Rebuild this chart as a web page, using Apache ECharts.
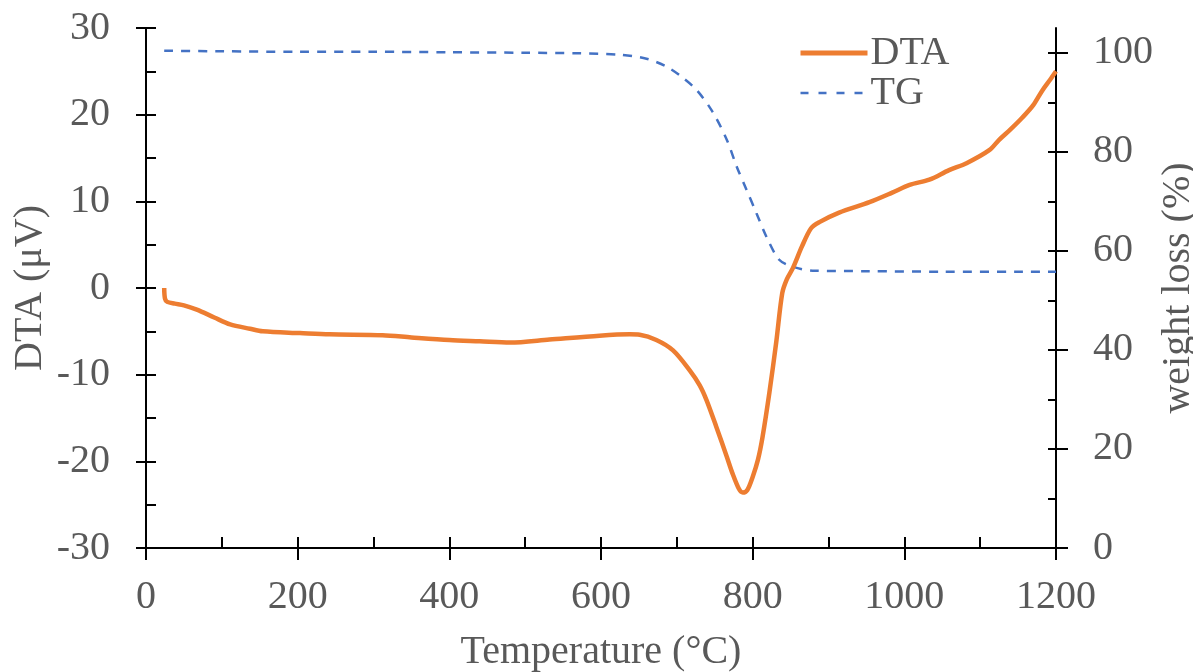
<!DOCTYPE html>
<html>
<head>
<meta charset="utf-8">
<script src="https://cdn.jsdelivr.net/npm/echarts@6/dist/echarts.min.js"></script>
<style>html,body{margin:0;padding:0;background:#fff;}#c{width:1193px;height:672px;}</style>
</head>
<body>
<div id="c"></div>
<script>
// Temperature (°C) vs DTA (µV)
const dtaTemp = [24,25,28,38,50,67,90,111,137,154,203,242,312,350,400,440,480,532,598,638,651,673,695,717,730,739,752,766,773,782,787,793,800,807,813,822,831,839,845,853,865,877,888,914,954,984,1007,1033,1059,1082,1112,1125,1140,1156,1170,1182,1192,1200];
const dtaVal  = [0.0,-1.2,-1.6,-1.8,-2.0,-2.5,-3.4,-4.2,-4.7,-5.0,-5.2,-5.35,-5.45,-5.7,-6.0,-6.15,-6.3,-5.95,-5.5,-5.35,-5.4,-6.0,-7.2,-9.5,-11.2,-12.9,-16.0,-19.5,-21.3,-23.2,-23.6,-23.3,-21.8,-19.8,-17.2,-12.1,-6.3,-0.6,1.0,2.3,4.8,6.9,7.6,8.7,9.9,11.0,11.9,12.5,13.6,14.4,15.9,17.1,18.3,19.7,21.1,22.8,24.0,25.0];
// Temperature (°C) vs weight (%)
const tgTemp = [24,100,200,300,400,500,572,625,660,685,705,726,747,766,779,792,805,818,835,853,879,950,1050,1150,1200];
const tgVal  = [100.4,100.3,100.2,100.2,100.1,100.0,99.9,99.6,98.8,97.3,95.3,92.5,88.1,82.4,77.0,72.3,67.6,62.9,58.2,56.8,56.0,55.9,55.8,55.8,55.8];

const rightLabels = [0,20,40,60,80,100];
const rightMinor = [0,10,20,30,40,50,60,70,80,90,100];

const FONT = 'Liberation Serif';
const GRAY = '#595959';
const FS = 40;

const dtaData = dtaTemp.map((t,i)=>[t,dtaVal[i]]);
const tgData = tgTemp.map((t,i)=>[t,tgVal[i]]);

const axLine = {show:true, onZero:false, lineStyle:{color:'#000', width:2}};
const lbl = {color:GRAY, fontFamily:FONT, fontSize:FS};
const plain = v => String(v);

const chart = echarts.init(document.getElementById('c'), null, {renderer:'canvas'});
chart.setOption({
  animation:false,
  backgroundColor:'#fff',
  grid:{left:146, right:137, top:28, bottom:124, containLabel:false, outerBoundsMode:'none'},
  legend:{
    data:[
      {name:'DTA', lineStyle:{width:5, color:'#ED7D31'}},
      {name:'TG', lineStyle:{width:2.5, color:'#4472C4', type:[8,10]}}
    ],
    orient:'vertical', left:793, top:28,
    itemWidth:67, itemHeight:14, itemGap:0,
    itemStyle:{color:'rgba(0,0,0,0)', borderWidth:0, opacity:0},
    textStyle:{color:GRAY, fontFamily:FONT, fontSize:FS, padding:[0,0,0,-2]}
  },
  xAxis:[
    {type:'value', min:0, max:1200, interval:200, position:'bottom',
     name:'Temperature (°C)', nameLocation:'middle', nameGap:84, nameMoveOverlap:false,
     nameTextStyle:lbl,
     axisLine:axLine, splitLine:{show:false},
     axisTick:{show:true, inside:true, length:11, lineStyle:{color:'#000',width:2}},
     minorTick:{show:true, splitNumber:2, length:11, lineStyle:{color:'#000',width:2}},
     axisLabel:Object.assign({margin:29, formatter:plain}, lbl)},
    {type:'value', min:0, max:1200, interval:200, position:'bottom',
     axisLine:{show:false, onZero:false}, splitLine:{show:false}, axisLabel:{show:false},
     axisTick:{show:true, inside:false, length:12, lineStyle:{color:'#000',width:2}}}
  ],
  yAxis:[
    {type:'value', min:-30, max:30, interval:10, position:'left',
     name:'DTA (μV)', nameLocation:'middle', nameGap:96, nameRotate:90, nameMoveOverlap:false,
     nameTextStyle:lbl,
     axisLine:axLine, splitLine:{show:false},
     axisTick:{show:true, inside:true, length:10, lineStyle:{color:'#000',width:2}},
     minorTick:{show:true, splitNumber:2, length:10, lineStyle:{color:'#000',width:2}},
     axisLabel:Object.assign({margin:36, formatter:plain}, lbl)},
    {type:'value', min:-30, max:30, interval:10, position:'left',
     axisLine:{show:false, onZero:false}, splitLine:{show:false}, axisLabel:{show:false},
     axisTick:{show:true, inside:false, length:10, lineStyle:{color:'#000',width:2}}},
    {type:'value', min:0, max:105, position:'right',
     name:'weight loss (%)', nameLocation:'middle', nameGap:102, nameRotate:90, nameMoveOverlap:false,
     nameTextStyle:lbl,
     axisLine:axLine, splitLine:{show:false},
     axisTick:{show:true, inside:false, length:12, customValues:rightLabels, lineStyle:{color:'#000',width:2}},
     axisLabel:Object.assign({margin:37, customValues:rightLabels, formatter:plain}, lbl)},
    {type:'value', min:0, max:105, position:'right',
     axisLine:{show:false, onZero:false}, splitLine:{show:false}, axisLabel:{show:false},
     axisTick:{show:true, inside:true, length:8, customValues:rightMinor, lineStyle:{color:'#000',width:2}}}
  ],
  series:[
    {name:'TG', type:'line', xAxisIndex:0, yAxisIndex:2, data:tgData, smooth:0.3,
     symbol:'none', z:2,
     lineStyle:{color:'#4472C4', width:2.5, type:[9,8]}, itemStyle:{color:'#4472C4'}},
    {name:'DTA', type:'line', xAxisIndex:0, yAxisIndex:0, data:dtaData, smooth:0.3,
     symbol:'none', z:3,
     lineStyle:{color:'#ED7D31', width:4.5}, itemStyle:{color:'#ED7D31'}}
  ]
});
</script>
</body>
</html>
